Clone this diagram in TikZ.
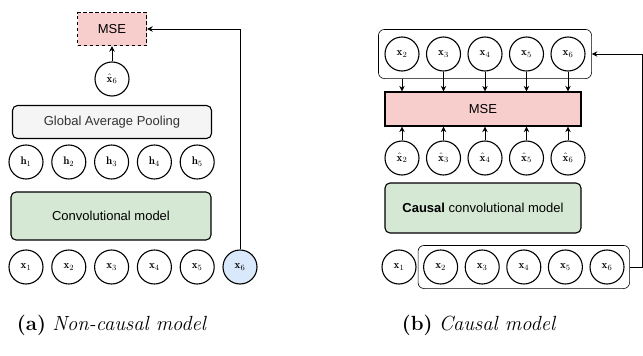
\documentclass[tikz,border=0pt]{standalone}
\usepackage{fontspec}
\usepackage{amsmath}
\newfontfamily\arialfont{Liberation Sans}
\usetikzlibrary{arrows.meta,fit}

\definecolor{msered}{HTML}{F8CECC}
\definecolor{convgreen}{HTML}{D5E8D4}
\definecolor{poolgray}{HTML}{F5F5F5}
\definecolor{inblue}{HTML}{DAE8FC}

\tikzset{
	var/.style={circle, draw, line width=1.1pt, minimum size=34pt, inner sep=0pt, font=\fontsize{11}{13}\selectfont},
	block/.style={draw, rounded corners=5pt, line width=1.1pt, inner sep=0pt, font=\arialfont\fontsize{13}{15}\selectfont},
	group/.style={draw, rounded corners=6pt, line width=0.6pt, inner sep=0pt},
	flow/.style={-{Stealth[length=5.5pt,width=5.5pt]}, line width=0.7pt},
	caption/.style={font=\fontsize{20.5}{24}\selectfont},
}

\begin{document}
\begin{tikzpicture}[x=1pt, y=-1pt]
			
			% Parameters
			\def\stepA{42.8}   
			\def\stepB{41.5}   
			
			\useasboundingbox (0,0) rectangle (643,356);
			
			% (a) Non-causal model
			\node[block, sharp corners, fill=msered, dash pattern=on 3.5pt off 2.5pt, line width=1.4pt, minimum width=69pt, minimum height=33pt] (mseA) at (112,29) {MSE};
			\node[var] (xhatA) at (112,79) {$\hat{\mathbf{x}}_6$};
			\node[block, fill=poolgray, text=black!80, minimum width=199pt, minimum height=33pt] (pool) at (112,122) {Global Average Pooling};
			\foreach \i in {1,...,5}
				\node[var] (h\i) at ({26+\stepA*(\i-1)},162) {$\mathbf{h}_{\i}$};
			\node[block, fill=convgreen, minimum width=200pt, minimum height=48pt] (convA) at (111,216) {Convolutional model};
			\foreach \i in {1,...,5}
				\node[var] (xA\i) at ({26+\stepA*(\i-1)},267) {$\mathbf{x}_{\i}$};
			\node[var, fill=inblue] (xA6) at ({26+\stepA*5},267) {$\mathbf{x}_6$};
			
			\draw[flow] (xhatA) -- (mseA);
			\draw[flow] (xA6.north) |- (mseA.east);
			
			% (b) Causal model
			\foreach \i in {2,...,6} {
				\node[var] (t\i) at ({402+\stepB*(\i-2)},54) {$\mathbf{x}_{\i}$};
				\node[var] (p\i) at ({402+\stepB*(\i-2)},158) {$\hat{\mathbf{x}}_{\i}$};
			}
			\node[group, fit=(t2)(t6), inner xsep=6pt, inner ysep=7pt] (targets) {};
			\node[block, sharp corners, fill=msered, line width=1.2pt, minimum width=196pt, minimum height=34pt] (mseB) at (483,109) {MSE};
			\node[block, fill=convgreen, minimum width=196pt, minimum height=50pt] (convB) at (483,208) {\textbf{Causal} convolutional model};
			\foreach \i in {1,...,6}
				\node[var] (b\i) at ({399+41.6*(\i-1)},267) {$\mathbf{x}_{\i}$};
			\node[group, fit=(b2)(b6), inner xsep=5pt, inner ysep=4pt] (inputs) {};
			
			% Targets and predictions into the loss
			\draw[flow] (t2 |- targets.south) -- (t2 |- mseB.north);
			\foreach \i in {3,...,6}
				\draw[flow] (t\i) -- (t\i |- mseB.north);
			\foreach \i in {2,...,6}
				\draw[flow] (p\i) -- (p\i |- mseB.south);
			\draw[flow] (inputs.east) -- ++(12,0) |- (targets.east);
			
			% Captions
			\node[caption] (capA) at (112,325) {\textbf{(a)} \textit{Non-causal model}};
			\node[caption] (capB) at (479,325) {\textbf{(b)} \textit{Causal model}};
			
		\end{tikzpicture}
\end{document}
